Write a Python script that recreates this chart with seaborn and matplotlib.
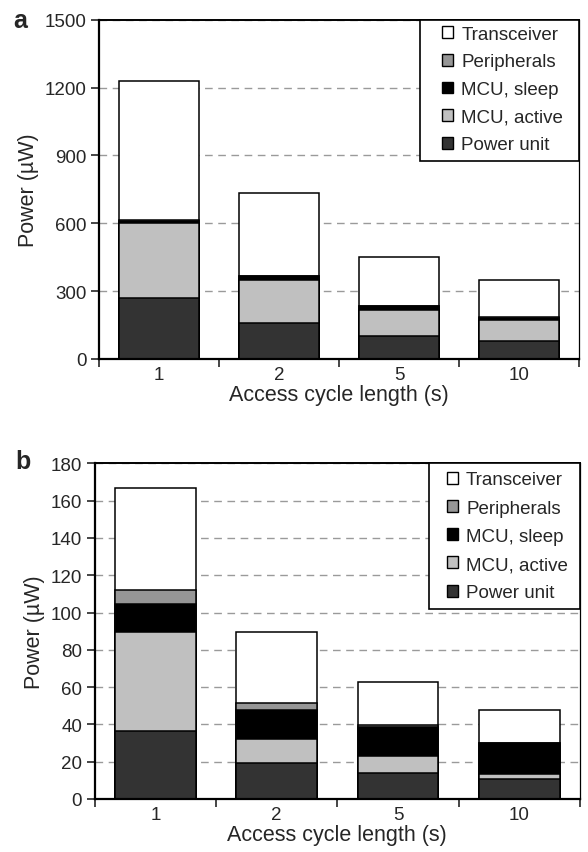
import numpy as np
import pandas as pd
import seaborn as sns
import matplotlib
matplotlib.use("Agg")
import matplotlib.pyplot as plt
from matplotlib.patches import Patch, Rectangle

# ---------------- data ----------------
cycles = ["1", "2", "5", "10"]
components = ["Power unit", "MCU, active", "MCU, sleep", "Peripherals", "Transceiver"]
colors = ["#333333", "#c0c0c0", "#000000", "#969696", "#ffffff"]

a_power_unit = [270, 160, 100, 80]
a_mcu_active = [330, 190, 117, 91]
a_mcu_sleep = [10, 16, 17, 12]
a_peripherals = [5, 3, 2, 2]
a_transceiver = [615, 363, 214, 165]

b_power_unit = [36.5, 19.3, 13.8, 10.7]
b_mcu_active = [53.0, 13.0, 9.1, 2.5]
b_mcu_sleep = [15.0, 15.2, 15.5, 16.7]
b_peripherals = [7.8, 4.1, 1.3, 0.3]
b_transceiver = [54.3, 37.7, 23.0, 17.7]

a_yticks = [0, 300, 600, 900, 1200, 1500]
b_yticks = [0, 20, 40, 60, 80, 100, 120, 140, 160, 180]

# ---------------- style ----------------
sns.set_style("ticks")
plt.rcParams["font.family"] = ["Liberation Sans", "DejaVu Sans"]

W, H = 588, 853
fig = plt.figure(figsize=(W / 100, H / 100), dpi=100)
legends = []


def make_panel(ax, layers, yticks, letter, lx, ly, pads, lspace):
    df = pd.DataFrame({"cycle": cycles})
    for name, vals in zip(components, layers):
        df[name] = vals
    cum = df[components].cumsum(axis=1)
    ax.set_axisbelow(True)
    ax.yaxis.grid(True, linestyle=(0, (5.5, 4)), color="#9a9a9a", linewidth=1.0, zorder=0)
    for i in range(len(components) - 1, -1, -1):
        sns.barplot(x=df["cycle"], y=cum[components[i]], order=cycles, color=colors[i],
                    saturation=1, edgecolor="black", linewidth=1.1, width=0.667,
                    ax=ax, zorder=2)
    ax.set_xlim(-0.5, len(cycles) - 0.5)
    ax.set_ylim(yticks[0], yticks[-1])
    ax.set_yticks(yticks)
    ax.set_yticklabels([str(t) for t in yticks], fontsize=13.5)
    ax.set_xticks(range(len(cycles)))
    ax.set_xticklabels(cycles, fontsize=13.5)
    ax.set_xticks(np.arange(-0.5, len(cycles), 1.0), minor=True)
    ax.tick_params(axis="x", which="major", length=0, pad=5)
    ax.tick_params(axis="x", which="minor", length=6, width=1.2, direction="out")
    ax.tick_params(axis="y", which="major", length=6, width=1.2, direction="out", pad=3)
    ax.set_xlabel("Access cycle length (s)", fontsize=15.5, labelpad=1)
    ax.set_ylabel("Power (\u00b5W)", fontsize=15.5, labelpad=4)
    for s in ["left", "bottom"]:
        ax.spines[s].set_linewidth(1.6)
    ax.spines["top"].set_linewidth(1.4)
    ax.spines["right"].set_linewidth(0.9)
    for s in ax.spines.values():
        s.set_color("black")
        s.set_zorder(5)
    rp, tp, lp, bp = pads
    bbox = ax.get_position()
    axw, axh = bbox.width * W, bbox.height * H
    handles = [Patch(facecolor=colors[i], edgecolor="black", linewidth=1.0, label=components[i])
               for i in range(len(components) - 1, -1, -1)]
    leg = ax.legend(handles=handles, loc="upper right",
                    bbox_to_anchor=(1 - rp / axw, 1 - tp / axh),
                    borderaxespad=0, borderpad=0, fontsize=13.5,
                    frameon=False, handlelength=0.6, handleheight=0.6,
                    handletextpad=0.42, labelspacing=lspace, alignment="left")
    leg.set_zorder(6)
    legends.append((ax, leg, lp, bp))
    fig.text(lx, ly, letter, fontsize=18, fontweight="bold", ha="left", va="center")


ax_a = fig.add_axes([99 / W, 1 - 360 / H, 480 / W, (360 - 20.7) / H])
make_panel(ax_a, [a_power_unit, a_mcu_active, a_mcu_sleep, a_peripherals, a_transceiver],
           a_yticks, "a", 13 / W, 1 - 21 / H, (16, 6, 22, 8), 0.57)

ax_b = fig.add_axes([94.7 / W, 1 - 800 / H, (580 - 94.7) / W, (800 - 464.3) / H])
make_panel(ax_b, [b_power_unit, b_mcu_active, b_mcu_sleep, b_peripherals, b_transceiver],
           b_yticks, "b", 15 / W, 1 - 462 / H, (12, 8, 18, 8), 0.6)

# legend frame: spans from the legend contents to the axes' upper-right corner
fig.canvas.draw()
for ax, leg, lp, bp in legends:
    bb = leg.get_window_extent()
    inv = ax.transAxes.inverted()
    x0, y0 = inv.transform((bb.x0 - lp, bb.y0 - bp))
    ax.add_patch(Rectangle((x0, y0), 1 - x0, 1 - y0, transform=ax.transAxes,
                           facecolor="white", edgecolor="black", linewidth=1.2,
                           zorder=5.5, clip_on=False))

fig.savefig("out.png", dpi=100)
